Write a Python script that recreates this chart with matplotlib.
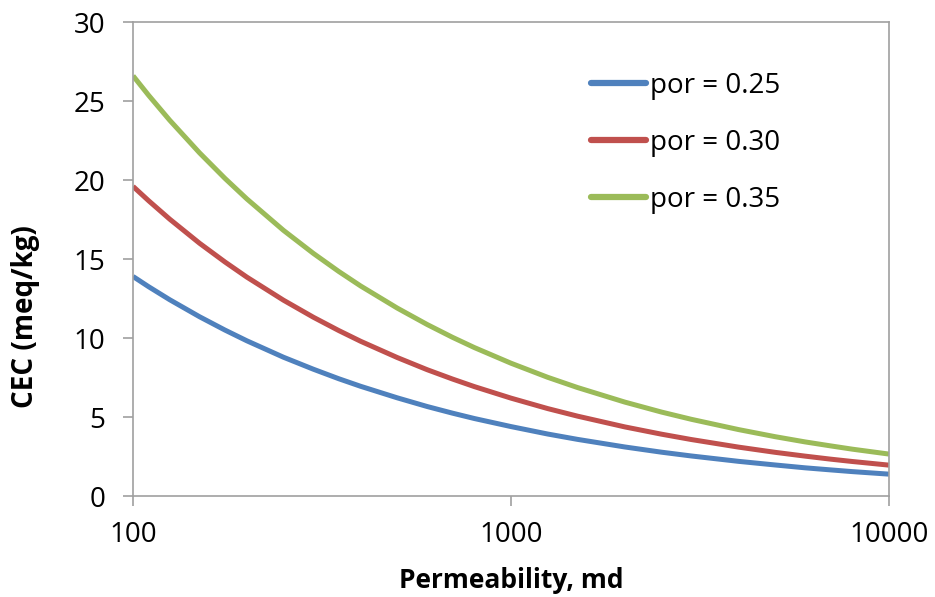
import matplotlib
matplotlib.use('Agg')
import matplotlib.pyplot as plt
from matplotlib.ticker import FixedLocator, NullLocator, FixedFormatter

# permeability (md) where the curves were read
perm = [100, 110, 125, 150, 175, 200, 250, 300, 350, 400, 500, 600, 700, 800, 1000,
        1250, 1500, 2000, 2500, 3000, 4000, 5000, 6000, 7000, 8000, 10000]

# CEC (meq/kg)
cec_025 = [13.9, 13.25, 12.43, 11.35, 10.51, 9.83, 8.79, 8.03, 7.43, 6.95, 6.22, 5.67, 5.25, 4.91, 4.40,
           3.93, 3.59, 3.11, 2.78, 2.54, 2.20, 1.97, 1.79, 1.66, 1.55, 1.39]
cec_030 = [19.6, 18.69, 17.53, 16.0, 14.82, 13.86, 12.40, 11.32, 10.48, 9.80, 8.77, 8.00, 7.41, 6.93, 6.20,
           5.54, 5.06, 4.38, 3.92, 3.58, 3.10, 2.77, 2.53, 2.34, 2.19, 1.96]
cec_035 = [26.6, 25.36, 23.79, 21.72, 20.11, 18.81, 16.82, 15.36, 14.22, 13.30, 11.90, 10.86, 10.05, 9.40, 8.41,
           7.52, 6.87, 5.95, 5.32, 4.86, 4.21, 3.76, 3.43, 3.18, 2.97, 2.66]

labels = ['por = 0.25', 'por = 0.30', 'por = 0.35']
colors = ['#4F81BD', '#C0504D', '#9BBB59']

x_ticks = [100, 1000, 10000]
x_tick_labels = ['100', '1000', '10000']
y_ticks = [0, 5, 10, 15, 20, 25, 30]

plt.rcParams['font.family'] = ['Open Sans', 'DejaVu Sans']

fig = plt.figure(figsize=(9.35, 5.97), dpi=100)
ax = fig.add_axes([0.1423, 0.169, 0.8085, 0.794])

#draw the three curves
for vals, lab, col in zip([cec_025, cec_030, cec_035], labels, colors):
    ax.plot(perm, vals, color=col, lw=3.6, label=lab, solid_capstyle='butt')

ax.set_xscale('log')
ax.set_xlim(100, 10000)
ax.set_ylim(0, 30)
ax.xaxis.set_major_locator(FixedLocator(x_ticks))
ax.xaxis.set_major_formatter(FixedFormatter(x_tick_labels))
ax.xaxis.set_minor_locator(NullLocator())
ax.set_yticks(y_ticks)

grey = '#A0A0A0'
for s in ax.spines.values():
    s.set_color(grey)
    s.set_linewidth(1.2)
ax.tick_params(axis='both', direction='out', length=7, width=1.2, color=grey,
               labelsize=20, labelcolor='black')
ax.tick_params(axis='y', pad=13)
ax.tick_params(axis='x', pad=11)

ax.set_xlabel('Permeability, md', fontsize=19, fontweight='bold', labelpad=13)
ax.set_ylabel('CEC (meq/kg)', fontsize=20, fontweight='bold')
ax.yaxis.set_label_coords(-0.123, 0.378)

leg = ax.legend(loc='center', bbox_to_anchor=(0.731, 0.745), frameon=False,
                fontsize=20, handlelength=2.0, handletextpad=0.15,
                labelspacing=1.04, borderpad=0)
for line in leg.get_lines():
    line.set_linewidth(4.5)
    line.set_solid_capstyle('round')

plt.savefig('out.png', dpi=100)
